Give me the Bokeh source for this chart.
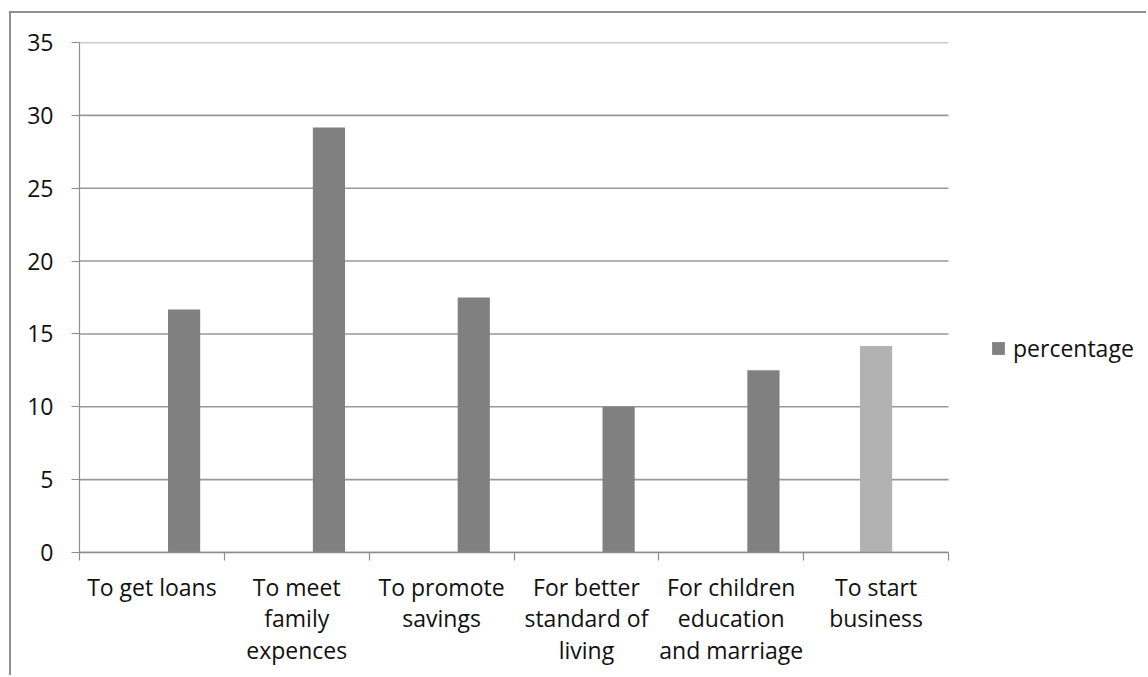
from bokeh.plotting import figure
from bokeh.models import Range1d, FixedTicker, Legend, LegendItem, ColumnDataSource
from bokeh.embed import file_html
from bokeh.resources import INLINE

# Reasons for joining, share of respondents (%)
categories = [
    "To get loans",
    "To meet family expences",
    "To promote savings",
    "For better standard of living",
    "For children education and marriage",
    "To start business",
]
tick_labels = [
    "To get loans",
    "To meet\nfamily\nexpences",
    "To promote\nsavings",
    "For better\nstandard of\nliving",
    "For children\neducation\nand marriage",
    "To start\nbusiness",
]
percentage = [16.67, 29.17, 17.5, 10.0, 12.5, 14.17]
bar_series = ["percentage", "percentage", "percentage", "percentage", "percentage", "start-up"]
y_ticks = [0, 5, 10, 15, 20, 25, 30, 35]

FONT = "Open Sans"
FONT_SIZE = "23px"
TEXT_COLOR = "#111111"
AXIS_GRAY = "#8c8c8c"
GRID_GRAY = "#999999"

# clustered layout: three slots per category, gap of 150 % of a bar width
SLOTS = 3
GAP = 1.5
bar_w = 1.0 / (SLOTS + GAP)
slot_of = {"percentage": 2, "start-up": 1}
color_of = {"percentage": "#808080", "start-up": "#b2b2b2"}

def slot_center(i, slot):
    return i + GAP * bar_w / 2 + (slot + 0.5) * bar_w

# the frame runs to the right edge so the legend can sit beside the bars;
# the category axis itself only covers [0, n]
n = len(categories)
PLOT_W, PLOT_H = 1137, 664
LEFT, RIGHT, TOP, BOTTOM = 68, 0, 29, 125
axis_px = 869
frame_px = PLOT_W - LEFT - RIGHT
x_end = n * frame_px / axis_px

p = figure(
    width=PLOT_W, height=PLOT_H,
    x_range=Range1d(0, x_end), y_range=Range1d(0, 35),
    output_backend="svg", toolbar_location=None,
    min_border_left=LEFT, min_border_right=RIGHT, min_border_top=TOP, min_border_bottom=BOTTOM,
)
p.styles = {
    "margin-left": "9px", "margin-top": "11px",
    "border-left": "2px solid #8f8f8f", "border-top": "2px solid #8f8f8f",
}
p.outline_line_color = None
p.background_fill_color = "white"
p.border_fill_color = "white"

# horizontal gridlines across the category span only
p.xgrid.grid_line_color = None
p.ygrid.grid_line_color = None
p.segment(x0=0, x1=n, y0=y_ticks, y1=y_ticks, line_color=GRID_GRAY, line_width=1.6)

renderers = {}
for name in ["percentage", "start-up"]:
    idx = [i for i, s in enumerate(bar_series) if s == name]
    src = ColumnDataSource(dict(
        x=[slot_center(i, slot_of[name]) for i in idx],
        top=[percentage[i] for i in idx],
        cat=[categories[i] for i in idx],
    ))
    renderers[name] = p.vbar(x="x", top="top", bottom=0, width=bar_w, source=src,
                             fill_color=color_of[name], line_color=None)

# y axis
ya = p.yaxis[0]
ya.ticker = FixedTicker(ticks=y_ticks, minor_ticks=[])
ya.axis_line_color = AXIS_GRAY
ya.axis_line_width = 1.2
ya.major_tick_line_color = AXIS_GRAY
ya.major_tick_line_width = 1.2
ya.major_tick_in = 0
ya.major_tick_out = 8
ya.major_label_standoff = 18
ya.major_label_text_font = FONT
ya.major_label_text_font_size = FONT_SIZE
ya.major_label_text_color = TEXT_COLOR

# x axis: labels centred on categories, tick marks at category boundaries
xa = p.xaxis[0]
xa.bounds = (0, n)
xa.ticker = FixedTicker(ticks=[i + 0.5 for i in range(n)],
                        minor_ticks=list(range(n + 1)))
xa.major_label_overrides = {i + 0.5: lab for i, lab in enumerate(tick_labels)}
xa.axis_line_color = AXIS_GRAY
xa.axis_line_width = 1.5
xa.major_tick_line_color = None
xa.major_tick_in = 0
xa.major_tick_out = 0
xa.minor_tick_line_color = AXIS_GRAY
xa.minor_tick_line_width = 1.2
xa.minor_tick_in = 0
xa.minor_tick_out = 8
xa.major_label_standoff = 10
xa.major_label_text_font = FONT
xa.major_label_text_font_size = FONT_SIZE
xa.major_label_text_color = TEXT_COLOR
xa.major_label_text_line_height = 0.99

legend = Legend(
    items=[LegendItem(label="percentage", renderers=[renderers["percentage"]])],
    location=(911, 188),
    border_line_color=None, background_fill_alpha=0,
    padding=0, margin=0, spacing=0,
    glyph_width=16, glyph_height=16, label_height=16, label_standoff=7,
    label_text_font=FONT, label_text_font_size=FONT_SIZE, label_text_color=TEXT_COLOR,
)
p.add_layout(legend, "center")

open("out.html", "w").write(file_html(p, INLINE))
